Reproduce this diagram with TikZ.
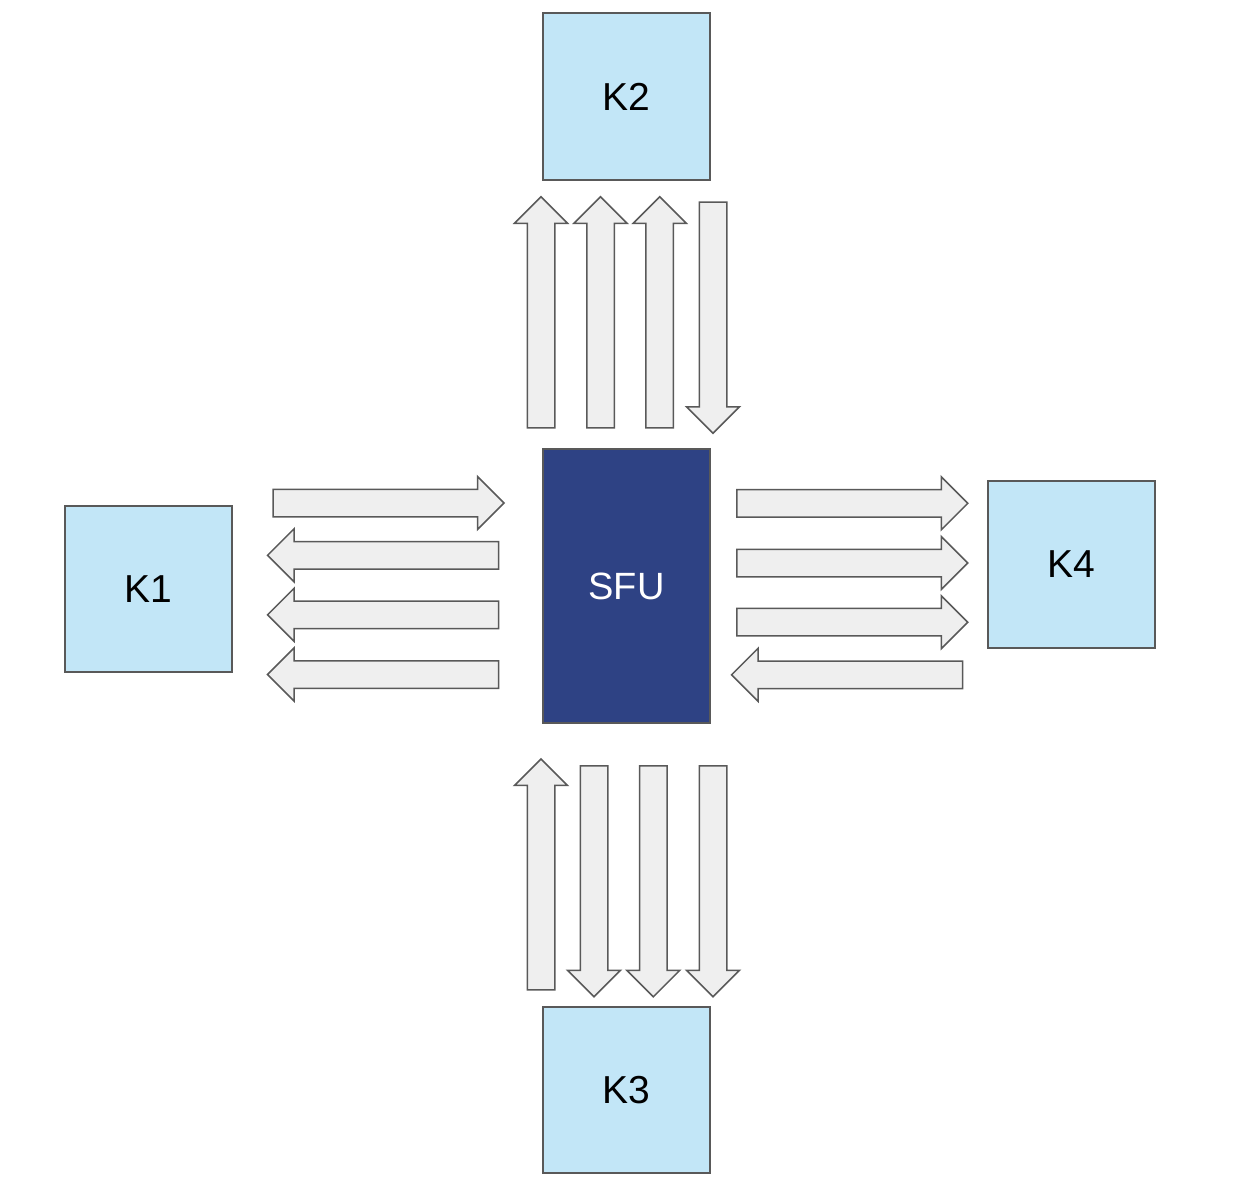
\documentclass[tikz,border=0pt]{standalone}
\usepackage{fontspec}
\setmainfont{Liberation Sans}
\usetikzlibrary{shapes.arrows}
\definecolor{kfill}{RGB}{194,230,247}
\definecolor{sfufill}{RGB}{46,66,132}
\definecolor{edgegray}{RGB}{89,89,89}
\definecolor{arrowfill}{RGB}{239,239,239}
\tikzset{
  kbox/.style={draw=edgegray, line width=1.5pt, fill=kfill, minimum width=167pt, minimum height=167pt, inner sep=0pt, font=\fontsize{39}{39}\selectfont},
  sfubox/.style={draw=edgegray, line width=1.5pt, fill=sfufill, minimum width=167pt, minimum height=274pt, inner sep=0pt, text=white, font=\fontsize{38}{38}\selectfont},
  blockarrow/.style={single arrow, draw=edgegray, line width=1.5pt, fill=arrowfill, minimum height=231pt, minimum width=0pt, inner xsep=0pt, inner ysep=13pt, single arrow head extend=12.75pt, single arrow tip angle=90, anchor=tail},
  up/.style={blockarrow, rotate=90},
  down/.style={blockarrow, rotate=-90},
  right/.style={blockarrow, rotate=0},
  left/.style={blockarrow, rotate=180},
}
\begin{document}
\begin{tikzpicture}[x=1pt,y=-1pt]
\useasboundingbox (0,0) rectangle (1247,1182);
% boxes
\node[kbox] (k2) at (626.5,96.5) {K2};
\node[kbox, minimum height=166pt] (k1) at (148.5,589) {K1};
\node[kbox] (k4) at (1071.5,564.5) {K4};
\node[kbox, minimum height=166pt] (k3) at (626.5,1090) {K3};
\node[sfubox] (sfu) at (626.5,586) {SFU};
% top arrows
\node[up] (t1) at (541,428.5) {};
\node[up] (t2) at (600.5,428.5) {};
\node[up] (t3) at (659.7,428.5) {};
\node[down] (t4) at (713,201.5) {};
% left arrows
\node[right] (l1) at (272.3,503) {};
\node[left] (l2) at (499.3,555.3) {};
\node[left] (l3) at (499.3,614.8) {};
\node[left] (l4) at (499.3,674.5) {};
% right arrows
\node[right] (r1) at (736,503.3) {};
\node[right] (r2) at (736,563) {};
\node[right] (r3) at (736,622.2) {};
\node[left] (r4) at (963.3,674.8) {};
% bottom arrows
\node[up] (b1) at (541,990.7) {};
\node[down] (b2) at (594,765) {};
\node[down] (b3) at (653.3,765) {};
\node[down] (b4) at (713,765) {};
\end{tikzpicture}
\end{document}
